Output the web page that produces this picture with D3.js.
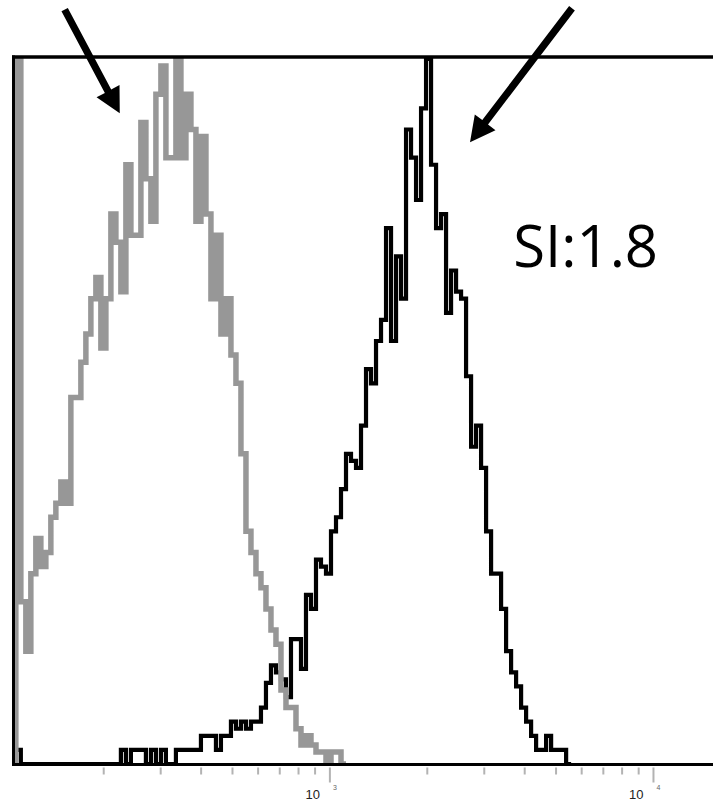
<!DOCTYPE html>
<html>
<head>
<meta charset="utf-8">
<script src="https://cdn.jsdelivr.net/npm/d3@7"></script>
<style>
  html, body { margin: 0; padding: 0; background: #fff; }
  svg { display: block; }
</style>
</head>
<body>
<svg id="chart" width="713" height="803"></svg>
<script>
// Flow-cytometry histogram overlay: isotype (gray) vs stained (black), log x axis.

// Channels are equal-width bins in log10 space.
const CHANNEL_LOG_START = 2.031;   // log10 of the first channel's lower edge
const CHANNEL_LOG_WIDTH = 0.01546; // log10 width of one channel

// Counts per channel, % of mode.
const grayCounts = [
  100, 23, 16, 27, 32, 28, 30, 35, 37, 40,
  37, 52, 52, 57, 61, 66, 69, 59, 66, 78,
  74, 67, 85, 75, 75, 91, 83, 77, 95, 99,
  86, 86, 100, 86, 95, 90, 77, 89, 78, 66,
  75, 61, 66, 58, 54, 44, 33, 30, 27, 25,
  22, 19, 17, 10.5, 8, 8, 5, 2.7, 4, 2.7,
  1.7, 1.7, 0, 1.7, 1.7, 0
];
const blackCounts = [
  2, 0, 0, 0, 0, 0, 0, 0, 0, 0,
  0, 0, 0, 0, 0, 0, 0, 0, 0, 0,
  0, 2, 0, 2, 2, 2, 0, 2, 0, 2,
  0, 0, 2, 2, 2, 2, 2, 4, 4, 4,
  2, 4, 4, 6, 5, 6, 5, 6, 6, 8,
  11.5, 14, 13, 12, 9.5, 17.7, 17.7, 13.5, 24, 22,
  29, 28, 27, 33, 35, 39, 44, 43, 42, 48,
  56, 54, 60, 63, 76, 60, 72, 66, 90, 86,
  80, 93, 100, 85, 76, 78, 64, 70, 67, 66,
  55, 45, 48, 42, 33, 27, 27, 22, 16, 13,
  11, 8, 6, 4, 2, 2, 4, 2, 2, 2,
  0
];

const minorTicks = [200, 300, 400, 500, 600, 700, 800, 900,
                    2000, 3000, 4000, 5000, 6000, 7000, 8000, 9000];
const majorTicks = [1000, 10000];
const majorExponents = ['3', '4'];

// Annotations in data units: [intensity, % of mode]
const arrowLeft  = { from: [152, 107], to: [225, 92.3] };
const arrowRight = { from: [5620, 107.2], to: [2720, 88.2] };
const siLabel = { text: 'SI:1.8', at: [3700, 70.5] };

const svg = d3.select('#chart');
const frame = { left: 13.5, top: 57, bottom: 764.5, right: 713 };

const x = d3.scaleLog().domain([106, 15660]).range([14, 716]);
const y = d3.scaleLinear().domain([0, 100]).range([764, 59]);

function channelEdge(i) {
  return Math.pow(10, CHANNEL_LOG_START + i * CHANNEL_LOG_WIDTH);
}

function histPoints(counts) {
  // step path: rise from baseline at the first edge, drop back at the last edge
  const pts = [[channelEdge(0), 0]];
  counts.forEach((c, i) => pts.push([channelEdge(i), c]));
  pts.push([channelEdge(counts.length), 0]);
  return pts;
}

const line = d3.line()
  .x(d => x(d[0]))
  .y(d => y(d[1]))
  .curve(d3.curveStepAfter);

svg.append('defs').append('clipPath').attr('id', 'plot-clip')
  .append('rect')
    .attr('x', frame.left).attr('y', frame.top)
    .attr('width', 713 - frame.left).attr('height', frame.bottom - frame.top);

const plot = svg.append('g').attr('clip-path', 'url(#plot-clip)');

plot.append('path')
  .attr('d', line(histPoints(blackCounts)))
  .attr('fill', 'none')
  .attr('stroke', '#000')
  .attr('stroke-width', 4.2);

plot.append('path')
  .attr('d', line(histPoints(grayCounts)))
  .attr('fill', 'none')
  .attr('stroke', '#979797')
  .attr('stroke-width', 5.5);

// frame: top, left, bottom (no right edge in view)
svg.append('line')
  .attr('x1', 12).attr('x2', 713).attr('y1', frame.top).attr('y2', frame.top)
  .attr('stroke', '#000').attr('stroke-width', 3.5);
svg.append('line')
  .attr('x1', frame.left).attr('x2', frame.left).attr('y1', 55.5).attr('y2', 766)
  .attr('stroke', '#000').attr('stroke-width', 3);
svg.append('line')
  .attr('x1', 12).attr('x2', 713).attr('y1', frame.bottom).attr('y2', frame.bottom)
  .attr('stroke', '#000').attr('stroke-width', 3);

// ticks
const minorAxis = d3.axisBottom(x).tickValues(minorTicks).tickSize(7).tickFormat('');
const majorAxis = d3.axisBottom(x).tickValues(majorTicks).tickSize(15).tickFormat('');
[minorAxis, majorAxis].forEach(ax => {
  const g = svg.append('g').attr('transform', 'translate(0,767.5)').call(ax);
  g.select('.domain').remove();
  g.selectAll('.tick line').attr('stroke', '#b3b3b3').attr('stroke-width', 2);
});

const labels = svg.append('g')
  .attr('font-family', 'Liberation Sans, Arial, sans-serif');
majorTicks.forEach((v, i) => {
  labels.append('text')
    .attr('x', x(v) - 9.5).attr('y', 799)
    .attr('text-anchor', 'end')
    .attr('font-size', 13)
    .attr('fill', '#222')
    .text('10');
  labels.append('text')
    .attr('x', x(v) + 3.5).attr('y', 790)
    .attr('font-size', 7)
    .attr('fill', '#666')
    .text(majorExponents[i]);
});

// arrows
function arrowPolygon(a) {
  const [x1, y1] = [x(a.from[0]), y(a.from[1])];
  const [x2, y2] = [x(a.to[0]), y(a.to[1])];
  const len = Math.hypot(x2 - x1, y2 - y1);
  const ux = (x2 - x1) / len, uy = (y2 - y1) / len;
  const nx = -uy, ny = ux;
  const shaft = 3.6, head = 13, headLen = 25;
  const bx = x2 - ux * headLen, by = y2 - uy * headLen;
  return [
    [x1 + nx * shaft, y1 + ny * shaft],
    [bx + nx * shaft, by + ny * shaft],
    [bx + nx * head, by + ny * head],
    [x2, y2],
    [bx - nx * head, by - ny * head],
    [bx - nx * shaft, by - ny * shaft],
    [x1 - nx * shaft, y1 - ny * shaft]
  ];
}
[arrowLeft, arrowRight].forEach(a => {
  svg.append('polygon')
    .attr('points', arrowPolygon(a).map(p => p.join(',')).join(' '))
    .attr('fill', '#000');
});

svg.append('text')
  .attr('x', x(siLabel.at[0])).attr('y', y(siLabel.at[1]))
  .attr('font-family', 'Open Sans, Noto Sans, sans-serif')
  .attr('font-size', 58)
  .attr('fill', '#000')
  .text(siLabel.text);
</script>
</body>
</html>
